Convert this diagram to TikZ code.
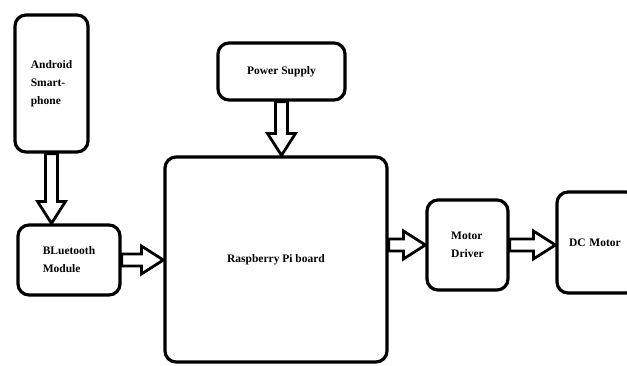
\documentclass[tikz,border=0pt]{standalone}
\usepackage{fontspec}
\setmainfont{Liberation Serif}
\usetikzlibrary{calc}

\tikzset{
	blk/.style={draw, line width=3.2pt, rounded corners=11pt, inner sep=0pt,
		align=left, font=\bfseries\fontsize{11.5}{18}\selectfont},
	fat/.style={draw, fill=white, line width=2.8pt, line join=miter,
		to path={let \p1=(\tikztostart), \p2=(\tikztotarget),
			\n1={atan2(\y2-\y1,\x2-\x1)}, \n2={veclen(\x2-\x1,\y2-\y1)} in
			([shift={(\p1)},rotate=\n1]0pt,6pt)
			-- ([shift={(\p1)},rotate=\n1]\n2-22pt,6pt)
			-- ([shift={(\p1)},rotate=\n1]\n2-22pt,14pt)
			-- ([shift={(\p1)},rotate=\n1]\n2,0pt)
			-- ([shift={(\p1)},rotate=\n1]\n2-22pt,-14pt)
			-- ([shift={(\p1)},rotate=\n1]\n2-22pt,-6pt)
			-- ([shift={(\p1)},rotate=\n1]0pt,-6pt) -- cycle}}
}

\begin{document}
\begin{tikzpicture}[x=1pt, y=-1pt]
	\useasboundingbox (0,0) rectangle (627,365);
	\node[blk, minimum width=73pt, minimum height=137pt] (phone) at (51.5,83.5) {Android\\Smart-\\phone};
	\node[blk, minimum width=102pt, minimum height=70pt] (bt) at (69,260) {BLuetooth\\Module};
	\node[blk, minimum width=127pt, minimum height=57pt] (psu) at (281.5,71.5) {Power Supply};
	\node[blk, minimum width=222pt, minimum height=205pt] (rpi) at (276,259.5) {Raspberry Pi board};
	\node[blk, minimum width=81pt, minimum height=90pt] (drv) at (467.5,245) {Motor\\Driver};
	\node[blk, minimum width=80pt, minimum height=101pt, text width=56pt] (dcm) at (597,242.5) {DC Motor};
	\path
	(phone.south) edge[fat] (phone.south |- bt.north)
	(psu.south) edge[fat] (psu.south |- rpi.north)
	(bt.east) edge[fat] (bt.east -| rpi.west)
	(rpi.east |- drv.west) edge[fat] (drv.west)
	(drv.east) edge[fat] (drv.east -| dcm.west);
\end{tikzpicture}
\end{document}
